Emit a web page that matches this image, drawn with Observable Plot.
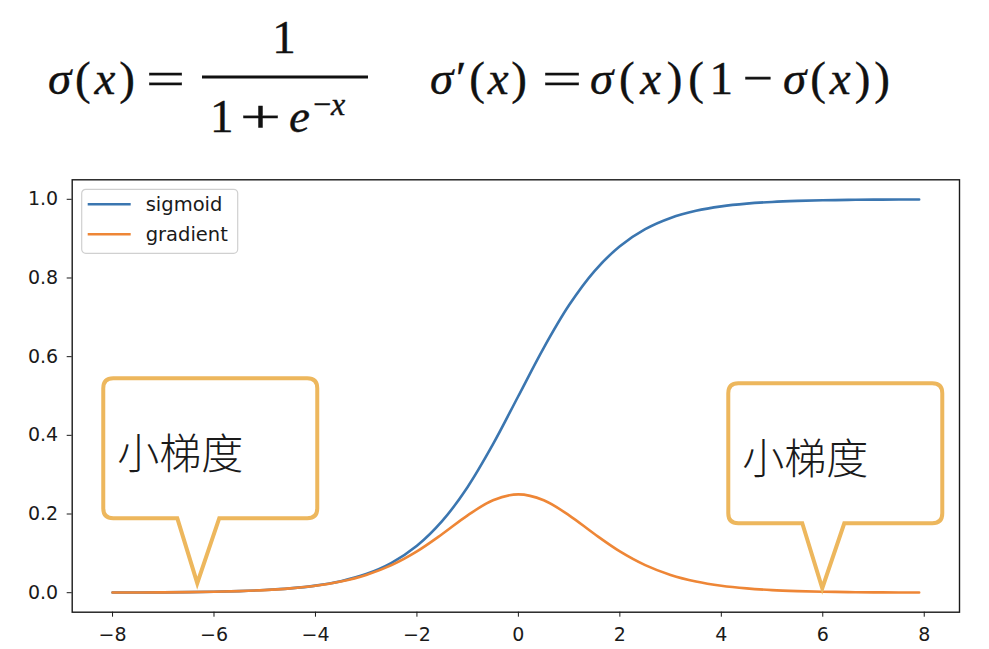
<!DOCTYPE html>
<html>
<head>
<meta charset="utf-8">
<script src="https://cdn.jsdelivr.net/npm/d3@7"></script>
<script src="https://cdn.jsdelivr.net/npm/@observablehq/plot@0.6"></script>
<style>
  body { margin: 0; background: #fff; }
  #wrap { width: 989px; }
  #wrap svg { display: block; }
</style>
</head>
<body>
<div id="wrap"></div>
<script>
// Sample points of the logistic curve and its derivative
const xValues = [-8, -7.5, -7, -6.5, -6, -5.5, -5, -4.5, -4, -3.5, -3, -2.5, -2, -1.5, -1, -0.5,
  0, 0.5, 1, 1.5, 2, 2.5, 3, 3.5, 4, 4.5, 5, 5.5, 6, 6.5, 7, 7.5, 7.9];
const sigmoidValues = [0.0003, 0.0006, 0.0009, 0.0015, 0.0025, 0.0041, 0.0067, 0.0110, 0.0180, 0.0293,
  0.0474, 0.0759, 0.1192, 0.1824, 0.2689, 0.3775, 0.5, 0.6225, 0.7311, 0.8176, 0.8808, 0.9241,
  0.9526, 0.9707, 0.9820, 0.9890, 0.9933, 0.9959, 0.9975, 0.9985, 0.9991, 0.9994, 0.9996];
const gradientValues = [0.0003, 0.0006, 0.0009, 0.0015, 0.0025, 0.0041, 0.0066, 0.0109, 0.0177, 0.0285,
  0.0452, 0.0701, 0.1050, 0.1491, 0.1966, 0.2350, 0.25, 0.2350, 0.1966, 0.1491, 0.1050, 0.0701,
  0.0452, 0.0285, 0.0177, 0.0109, 0.0066, 0.0041, 0.0025, 0.0015, 0.0009, 0.0006, 0.0004];
const seriesNames = ["sigmoid", "gradient"];
const seriesColors = ["#3b76b0", "#ee8636"];
const xTicks = [-8, -6, -4, -2, 0, 2, 4, 6, 8];
const yTicks = [0, 0.2, 0.4, 0.6, 0.8, 1.0];

// Speech-bubble callouts pointing at the flat tails of the gradient
const calloutX = [-6.32, 6.0];
const calloutY = [0.023, 0.01];
const calloutText = ["小梯度", "小梯度"];

const wrap = d3.select("#wrap");

// ---- Formula header ----
const header = wrap.append("svg")
  .attr("width", 989).attr("height", 160)
  .attr("font-family", "'Liberation Serif', 'Times New Roman', serif")
  .attr("font-size", 47).attr("fill", "#111")
  .attr("stroke", "#111").attr("stroke-width", 0.4);

// Each piece: parts ("*" marks italic), left edge, baseline, advance width to fit
function mathText(x, y, parts, opts = {}) {
  const t = header.append("text").attr("x", x).attr("y", y).attr("xml:space", "preserve");
  if (opts.anchor) t.attr("text-anchor", opts.anchor);
  if (opts.size) t.attr("font-size", opts.size);
  if (opts.length) t.attr("textLength", opts.length)
    .attr("lengthAdjust", opts.stretch ? "spacingAndGlyphs" : "spacing");
  for (const p of parts) {
    const italic = p.startsWith("*");
    t.append("tspan").attr("font-style", italic ? "italic" : "normal").text(italic ? p.slice(1) : p);
  }
  return t;
}

// σ(x) = 1 / (1 + e^{-x})
mathText(48, 94, ["*σ", "(", "*x", ")"], {length: 87});
mathText(146, 94, ["="], {length: 39, stretch: true});
header.append("line").attr("x1", 202).attr("x2", 368).attr("y1", 77).attr("y2", 77)
  .attr("stroke", "#111").attr("stroke-width", 3);
mathText(284, 53, ["1"], {anchor: "middle"});
mathText(210, 132, ["1"]);
mathText(240, 132, ["+"], {length: 41, stretch: true});
mathText(289, 132, ["*e"]);
mathText(313, 115, ["−", "*x"], {size: 32});

// σ'(x) = σ(x)(1 − σ(x))
mathText(430, 94, ["*σ", "′", "(", "*x", ")"], {length: 97});
mathText(542, 94, ["="], {length: 40, stretch: true});
mathText(590, 94, ["*σ", "(", "*x", ")", "(", "1"], {length: 143});
mathText(743, 94, ["−"], {length: 30, stretch: true});
mathText(783, 94, ["*σ", "(", "*x", ")", ")"], {length: 107});

// ---- Chart ----
const data = xValues.flatMap((x, i) => [
  {x, y: sigmoidValues[i], series: seriesNames[0]},
  {x, y: gradientValues[i], series: seriesNames[1]}
]);

const minusFormat = d => d < 0 ? "\u2212" + (-d) : String(d);

const plot = Plot.plot({
  width: 989,
  height: 489,
  marginTop: 19.3,
  marginRight: 30,
  marginBottom: 37.3,
  marginLeft: 71.7,
  style: {fontFamily: "'DejaVu Sans', sans-serif", fontSize: "19px", color: "#1a1a1a", background: "#fff"},
  x: {domain: [-8.795, 8.695], ticks: xTicks, tickFormat: minusFormat, tickSize: 5, tickPadding: 10, label: null},
  y: {domain: [-0.0496, 1.0496], ticks: yTicks, tickFormat: d => d.toFixed(1), tickSize: 5, tickPadding: 9, label: null},
  color: {domain: seriesNames, range: seriesColors},
  marks: [
    Plot.line(data, {x: "x", y: "y", stroke: "series", strokeWidth: 2.6, curve: "catmull-rom"}),
    Plot.frame({stroke: "#1a1a1a", strokeWidth: 1.4})
  ]
});
wrap.node().appendChild(plot);

const svg = d3.select(plot);
const sx = plot.scale("x"), sy = plot.scale("y");
const frameLeft = 71.7, frameTop = 19.3;

// Legend box in the upper-left corner of the axes
const legend = svg.append("g").attr("transform", `translate(${frameLeft + 10},${frameTop + 10})`);
legend.append("rect").attr("width", 156).attr("height", 64).attr("rx", 4)
  .attr("fill", "#fff").attr("fill-opacity", 0.85).attr("stroke", "#d0d0d0").attr("stroke-width", 1.2);
seriesNames.forEach((name, i) => {
  const yy = 15 + i * 30;
  legend.append("line").attr("x1", 6).attr("x2", 49).attr("y1", yy).attr("y2", yy)
    .attr("stroke", seriesColors[i]).attr("stroke-width", 2.6);
  legend.append("text").attr("x", 64).attr("y", yy).attr("dy", "0.35em")
    .attr("text-anchor", "start").attr("font-size", 19.5).attr("fill", "#1a1a1a").text(name);
});

// Callout bubbles
calloutX.forEach((cx, i) => {
  const tx = sx.apply(cx), ty = sy.apply(calloutY[i]);
  const L = tx - 94, R = tx + 120, T = ty - 205, B = ty - 65, r = 10;
  const path = `M${tx - 20},${B} L${tx},${ty} L${tx + 22},${B} H${R - r} Q${R},${B} ${R},${B - r}
    V${T + r} Q${R},${T} ${R - r},${T} H${L + r} Q${L},${T} ${L},${T + r} V${B - r} Q${L},${B} ${L + r},${B} Z`;
  svg.append("path").attr("d", path).attr("fill", "#fff")
    .attr("stroke", "#edb75d").attr("stroke-width", 4).attr("stroke-linejoin", "miter");
  svg.append("text").attr("x", tx - 80).attr("y", ty - 114).attr("text-anchor", "start")
    .attr("font-family", "'Noto Sans CJK SC', sans-serif").attr("font-weight", 300)
    .attr("font-size", 42).attr("fill", "#1a1a1a").text(calloutText[i]);
});
</script>
</body>
</html>
